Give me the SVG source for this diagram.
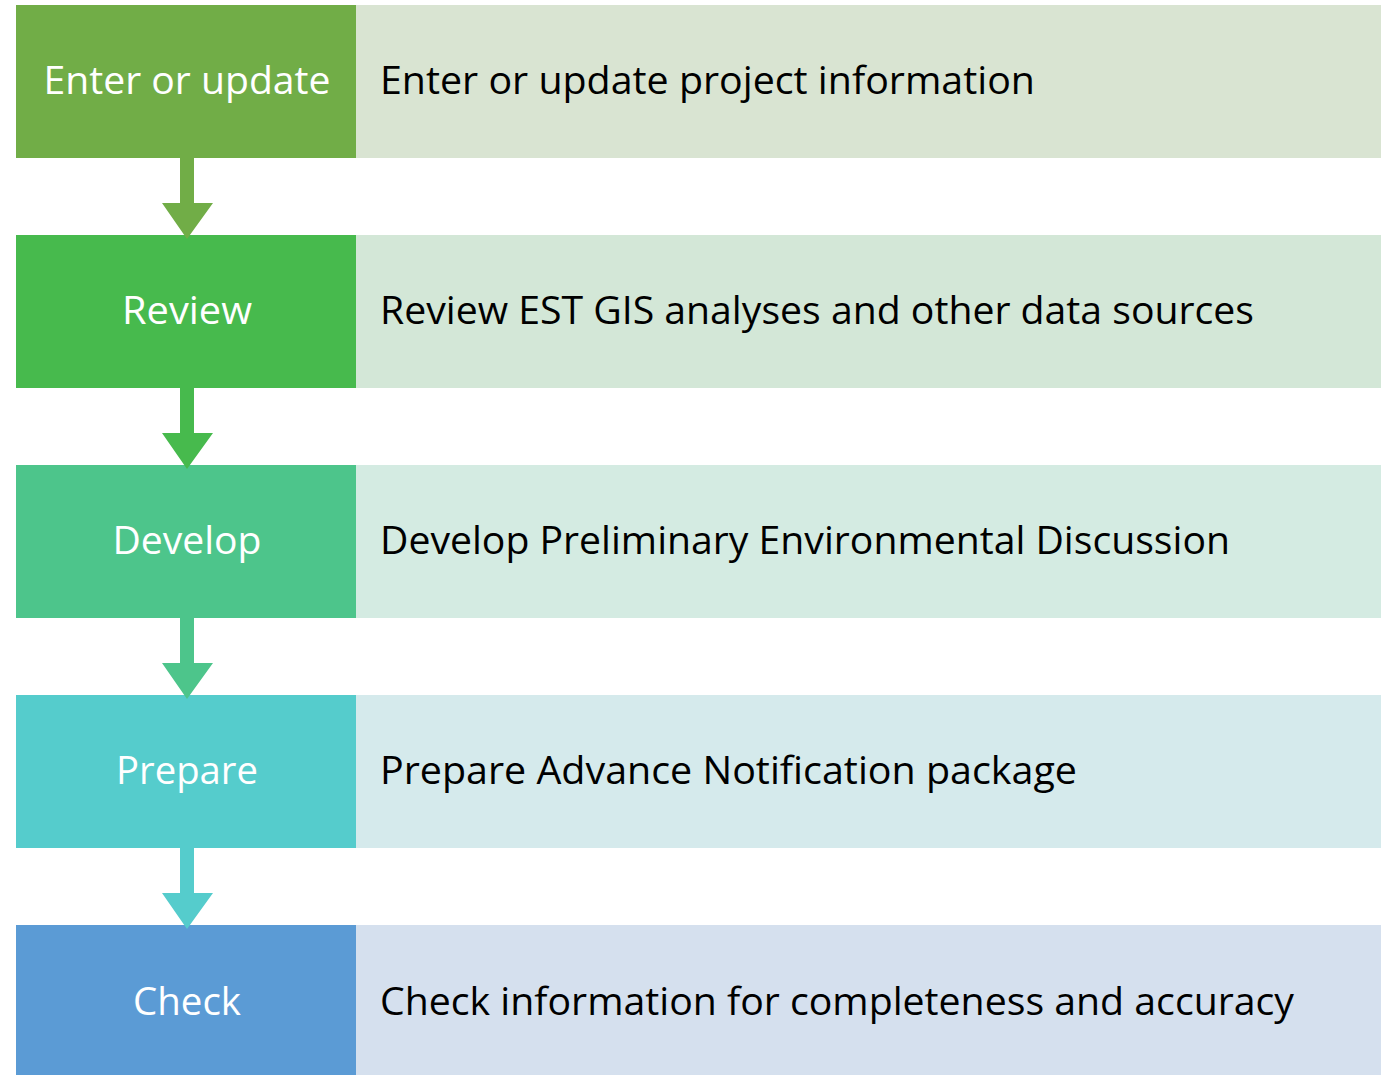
<svg xmlns="http://www.w3.org/2000/svg" width="1382" height="1075" viewBox="0 0 1382 1075">
<style>
.lt{font-family:"Open Sans","Noto Sans","Liberation Sans",sans-serif;font-size:38px;fill:#ffffff;text-anchor:middle}
.rt{font-family:"Open Sans","Noto Sans","Liberation Sans",sans-serif;font-size:38px;fill:#000000}
</style>
<rect width="1382" height="1075" fill="#ffffff"/>
<g id="row1">
<rect x="356" y="5" width="1025" height="153" fill="#D9E4D2"/>
<rect x="16" y="5" width="340" height="153" fill="#71AD47"/>
<text class="lt" x="187" y="94" textLength="287" lengthAdjust="spacingAndGlyphs">Enter or update</text>
<text class="rt" x="380" y="94" textLength="655" lengthAdjust="spacingAndGlyphs">Enter or update project information</text>
</g>
<g id="row2">
<rect x="356" y="235" width="1025" height="153" fill="#D3E7D7"/>
<rect x="16" y="235" width="340" height="153" fill="#47BA4D"/>
<text class="lt" x="187" y="324" textLength="130" lengthAdjust="spacingAndGlyphs">Review</text>
<text class="rt" x="380" y="324" textLength="874" lengthAdjust="spacingAndGlyphs">Review EST GIS analyses and other data sources</text>
</g>
<g id="row3">
<rect x="356" y="465" width="1025" height="153" fill="#D4EBE2"/>
<rect x="16" y="465" width="340" height="153" fill="#4DC58B"/>
<text class="lt" x="187" y="554" textLength="149" lengthAdjust="spacingAndGlyphs">Develop</text>
<text class="rt" x="380" y="554" textLength="850" lengthAdjust="spacingAndGlyphs">Develop Preliminary Environmental Discussion</text>
</g>
<g id="row4">
<rect x="356" y="695" width="1025" height="153" fill="#D5EAEC"/>
<rect x="16" y="695" width="340" height="153" fill="#55CCCC"/>
<text class="lt" x="187" y="784" textLength="142" lengthAdjust="spacingAndGlyphs">Prepare</text>
<text class="rt" x="380" y="784" textLength="697" lengthAdjust="spacingAndGlyphs">Prepare Advance Notification package</text>
</g>
<g id="row5">
<rect x="356" y="925" width="1025" height="150" fill="#D5E0EE"/>
<rect x="16" y="925" width="340" height="150" fill="#5B9BD5"/>
<text class="lt" x="187" y="1015" textLength="108" lengthAdjust="spacingAndGlyphs">Check</text>
<text class="rt" x="380" y="1015" textLength="914" lengthAdjust="spacingAndGlyphs">Check information for completeness and accuracy</text>
</g>
<g id="connectors">
<polygon points="180,158 194,158 194,203 213,203 187,239 162,203 180,203" fill="#71AD47"/>
<polygon points="180,388 194,388 194,433 213,433 187,469 162,433 180,433" fill="#47BA4D"/>
<polygon points="180,618 194,618 194,663 213,663 187,699 162,663 180,663" fill="#4DC58B"/>
<polygon points="180,848 194,848 194,893 213,893 187,929 162,893 180,893" fill="#55CCCC"/>
</g>
</svg>
